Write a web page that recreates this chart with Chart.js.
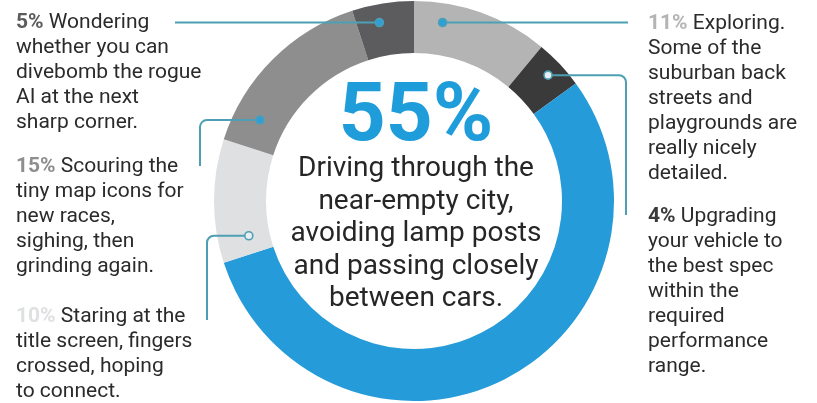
<!DOCTYPE html>
<html>
<head>
<meta charset="utf-8">
<script src="https://cdn.jsdelivr.net/npm/chart.js@4"></script>
<style>
  html, body { margin: 0; padding: 0; background: #ffffff; }
  #wrap { position: relative; width: 817px; height: 403px; overflow: hidden; font-family: Roboto, "Noto Sans", sans-serif; }
  #chart { position: absolute; left: 0; top: 0; }
  .note { position: absolute; font-size: 21px; line-height: 25px; color: #2b2b2b; white-space: nowrap; }
  .note b { font-weight: 700; }
  #big { position: absolute; left: 0; width: 832px; top: 71px; text-align: center; font-size: 82px; line-height: 82px; font-weight: 700; color: #1f9ddb; }
  #desc { position: absolute; left: 0; width: 832px; top: 151px; text-align: center; font-size: 28px; line-height: 32.5px; color: #262626; }
</style>
</head>
<body>
<div id="wrap">
  <canvas id="chart" width="817" height="403"></canvas>
  <div id="big"></div>
  <div id="desc"></div>
</div>
<script>
// Share of play time, clockwise from twelve o'clock
const activities = ['Exploring', 'Upgrading', 'Driving', 'Staring', 'Scouring', 'Wondering'];
const shares = [11, 4, 55, 10, 15, 5];
const sliceColors = ['#b4b4b5', '#3b3a3a', '#269bd9', '#dfe0e2', '#8e8e8f', '#5c5c5f'];

// Caption lines for each slice (the percentage is prefixed from `shares`)
const captions = [
  ['Exploring.', 'Some of the', 'suburban back', 'streets and', 'playgrounds are', 'really nicely', 'detailed.'],
  ['Upgrading', 'your vehicle to', 'the best spec', 'within the', 'required', 'performance', 'range.'],
  ['Driving through the', 'near-empty city,', 'avoiding lamp posts', 'and passing closely', 'between cars.'],
  ['Staring at the', 'title screen, fingers', 'crossed, hoping', 'to connect.'],
  ['Scouring the', 'tiny map icons for', 'new races,', 'sighing, then', 'grinding again.'],
  ['Wondering', 'whether you can', 'divebomb the rogue', 'AI at the next', 'sharp corner.']
];

// Caption placement and leader routing (index into the slices above)
const layout = [
  { i: 0, x: 648, y: 10,  t: 0.23, f: 0.63, filled: true,  path: [[628, null]] },
  { i: 1, x: 648, y: 203, t: 0.5,  f: 0.69, filled: false, path: [[626, null], [626, 215]] },
  { i: 3, x: 16,  y: 303, t: 0.17, f: 0.40, filled: false, path: [[207, null], [207, 320]] },
  { i: 4, x: 16,  y: 153, t: 0.18, f: 0.50, filled: true,  path: [[200, null], [200, 166]] },
  { i: 5, x: 16,  y: 9,   t: 0.39, f: 0.65, filled: true,  path: [[175, null]] }
];

const wrap = document.getElementById('wrap');
layout.forEach(L => {
  const d = document.createElement('div');
  d.className = 'note';
  d.style.left = L.x + 'px';
  d.style.top = L.y + 'px';
  const lines = captions[L.i].slice();
  const b = document.createElement('b');
  b.style.color = sliceColors[L.i];
  b.textContent = shares[L.i] + '%';
  d.appendChild(b);
  d.appendChild(document.createTextNode(' ' + lines[0]));
  lines.slice(1).forEach(s => {
    d.appendChild(document.createElement('br'));
    d.appendChild(document.createTextNode(s));
  });
  wrap.appendChild(d);
});

document.getElementById('big').textContent = shares[2] + '%';
document.getElementById('desc').innerHTML = captions[2].join('<br>');

// Leader lines with a small ring marker on each slice
const leaders = {
  id: 'leaders',
  afterDatasetsDraw(chart) {
    const ctx = chart.ctx;
    const arcs = chart.getDatasetMeta(0).data;
    ctx.save();
    ctx.strokeStyle = '#4d9fb4';
    ctx.lineWidth = 2;
    ctx.lineJoin = 'round';
    layout.forEach(L => {
      const a = arcs[L.i].getProps(['x', 'y', 'startAngle', 'endAngle', 'innerRadius', 'outerRadius'], true);
      const ang = a.startAngle + L.t * (a.endAngle - a.startAngle);
      const r = a.innerRadius + L.f * (a.outerRadius - a.innerRadius);
      const px = a.x + r * Math.cos(ang);
      const py = a.y + r * Math.sin(ang);
      const pts = [[px, py]];
      L.path.forEach(p => pts.push([p[0], p[1] === null ? py : p[1]]));
      ctx.beginPath();
      ctx.moveTo(pts[0][0], pts[0][1]);
      for (let k = 1; k < pts.length; k++) {
        if (k < pts.length - 1) {
          ctx.arcTo(pts[k][0], pts[k][1], pts[k + 1][0], pts[k + 1][1], 7);
        } else {
          ctx.lineTo(pts[k][0], pts[k][1]);
        }
      }
      ctx.stroke();
      ctx.beginPath();
      ctx.arc(px, py, 4, 0, Math.PI * 2);
      ctx.fillStyle = L.filled ? '#2f9fd6' : '#e8eef2';
      ctx.fill();
      ctx.lineWidth = 1.6;
      ctx.stroke();
      ctx.lineWidth = 2;
    });
    ctx.restore();
  }
};

new Chart(document.getElementById('chart'), {
  type: 'doughnut',
  data: {
    labels: activities,
    datasets: [{
      data: shares,
      backgroundColor: sliceColors,
      borderWidth: 0
    }]
  },
  options: {
    responsive: false,
    animation: false,
    cutout: '74%',
    layout: { padding: { left: 11, right: 0, top: 1, bottom: 2 } },
    plugins: { legend: { display: false }, tooltip: { enabled: false } }
  },
  plugins: [leaders]
});
</script>
</body>
</html>
